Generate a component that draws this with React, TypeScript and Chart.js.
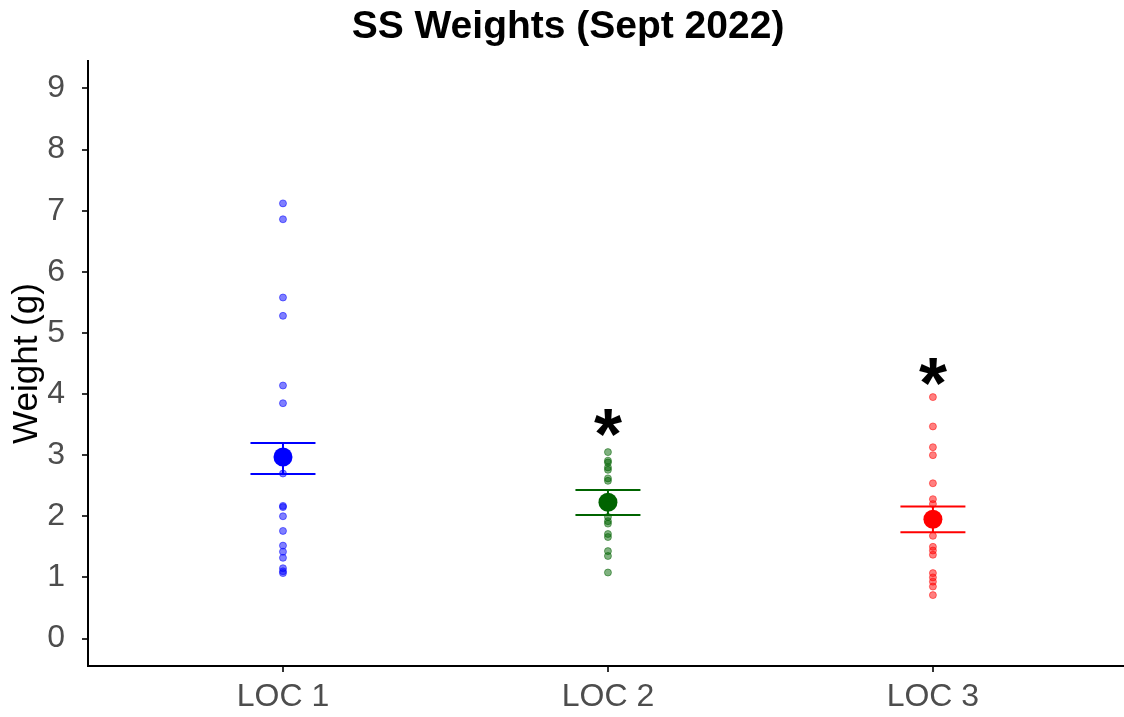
import React, { useEffect, useRef } from "react";
import { Chart, registerables } from "chart.js";

Chart.register(...registerables);

const categories = ["LOC 1", "LOC 2", "LOC 3"];
const loc1Weights = [7.12, 6.86, 5.58, 5.28, 4.14, 3.85, 2.7, 2.17, 2.15, 2.0, 1.76, 1.52, 1.42, 1.32, 1.15, 1.1, 1.07];
const loc2Weights = [3.05, 2.91, 2.88, 2.8, 2.76, 2.62, 2.58, 2.3, 2.18, 1.99, 1.92, 1.88, 1.71, 1.66, 1.43, 1.35, 1.08];
const loc3Weights = [3.95, 3.47, 3.13, 3.0, 2.54, 2.28, 2.2, 1.68, 1.5, 1.44, 1.37, 1.07, 1.0, 0.93, 0.85, 0.71];
const means = [2.97, 2.23, 1.95];
const seLower = [2.69, 2.02, 1.74];
const seUpper = [3.2, 2.43, 2.16];
const sigLabels = ["", "*", "*"];
const sigY = [null, 3.53, 4.37];
const yTicks = [0, 1, 2, 3, 4, 5, 6, 7, 8, 9];
const colors = ["#0000FF", "#006400", "#FF0000"];
const fadedColors = ["rgba(0,0,255,0.5)", "rgba(0,100,0,0.5)", "rgba(255,0,0,0.5)"];
const titleText = "SS Weights (Sept 2022)";
const yTitle = "Weight (g)";

const FONT = '"Liberation Sans", Arial, sans-serif';

export default function App() {
  const ref = useRef<HTMLCanvasElement>(null);

  useEffect(() => {
    if (!ref.current) return;
    const groups = [loc1Weights, loc2Weights, loc3Weights];
    const pointSets = groups.map((arr, gi) => ({
      label: categories[gi],
      data: arr.map((v) => ({ x: gi, y: v })),
      backgroundColor: fadedColors[gi],
      borderColor: fadedColors[gi],
      borderWidth: 1,
      pointRadius: 3.5,
    }));
    const meanSet = {
      label: "mean",
      data: means.map((m, i) => ({ x: i, y: m })),
      backgroundColor: colors,
      borderColor: colors,
      borderWidth: 0,
      pointRadius: 9.5,
    };

    const errPlugin = {
      id: "errbars",
      beforeDatasetsDraw(chart: any) {
        const { ctx, scales } = chart;
        const xs = scales.x, ys = scales.y;
        ctx.save();
        means.forEach((_, i) => {
          const xl = xs.getPixelForValue(i - 0.1);
          const xr = xs.getPixelForValue(i + 0.1);
          const xc = xs.getPixelForValue(i);
          const yl = ys.getPixelForValue(seLower[i]);
          const yh = ys.getPixelForValue(seUpper[i]);
          ctx.strokeStyle = colors[i];
          ctx.lineWidth = 2;
          ctx.beginPath();
          ctx.moveTo(xl, yl); ctx.lineTo(xr, yl);
          ctx.moveTo(xl, yh); ctx.lineTo(xr, yh);
          ctx.moveTo(xc, yl); ctx.lineTo(xc, yh);
          ctx.stroke();
        });
        ctx.restore();
      },
      afterDatasetsDraw(chart: any) {
        const { ctx, scales } = chart;
        ctx.save();
        ctx.fillStyle = "#000";
        ctx.font = `bold 72px ${FONT}`;
        ctx.textAlign = "center";
        ctx.textBaseline = "alphabetic";
        sigLabels.forEach((s, i) => {
          if (!s || sigY[i] == null) return;
          const m = ctx.measureText(s);
          const cx = scales.x.getPixelForValue(i);
          const cy = scales.y.getPixelForValue(sigY[i]);
          ctx.fillText(s, cx, cy + (m.actualBoundingBoxAscent - m.actualBoundingBoxDescent) / 2);
        });
        ctx.restore();
      },
      afterDraw(chart: any) {
        const { ctx } = chart;
        ctx.save();
        ctx.fillStyle = "#000";
        ctx.font = `bold 39px ${FONT}`;
        ctx.textAlign = "center";
        ctx.textBaseline = "alphabetic";
        ctx.fillText(titleText, 568, 38);
        ctx.restore();
      },
    };

    const axisGrid = {
      display: true,
      drawOnChartArea: false,
      drawTicks: true,
      tickLength: 6,
      color: "#333333",
      lineWidth: 2,
    };

    const chart = new Chart(ref.current, {
      type: "scatter",
      data: { datasets: [...pointSets, meanSet] as any },
      plugins: [errPlugin],
      options: {
        responsive: false,
        animation: false,
        layout: { autoPadding: false, padding: { top: 61, left: 0, right: 0, bottom: 0 } },
        plugins: { legend: { display: false }, tooltip: { enabled: false }, title: { display: false } },
        scales: {
          x: {
            type: "linear",
            min: -0.6,
            max: 2.588,
            afterBuildTicks: (s: any) => {
              s.ticks = categories.map((_, i) => ({ value: i }));
            },
            afterFit: (s: any) => {
              s.height = 51;
              s.paddingLeft = 0;
              s.paddingRight = 0;
            },
            ticks: {
              callback: (v: any) => categories[v as number] ?? "",
              font: { size: 32, family: FONT },
              color: "#4D4D4D",
              padding: 6,
              autoSkip: false,
              maxRotation: 0,
            },
            grid: axisGrid,
            border: { display: true, color: "#000", width: 2 },
          },
          y: {
            type: "linear",
            min: -0.45,
            max: 9.45,
            afterBuildTicks: (s: any) => {
              s.ticks = yTicks.map((v) => ({ value: v }));
            },
            afterFit: (s: any) => {
              s.width = 88;
              s.paddingTop = 0;
              s.paddingBottom = 0;
            },
            ticks: {
              font: { size: 32, family: FONT },
              color: "#4D4D4D",
              padding: 17,
            },
            title: {
              display: true,
              text: yTitle,
              font: { size: 35, family: FONT },
              color: "#000",
              padding: { top: 6, bottom: 0 },
            },
            grid: axisGrid,
            border: { display: true, color: "#000", width: 2 },
          },
        },
      } as any,
    });
    return () => chart.destroy();
  }, []);

  return (
    <div style={{ position: "fixed", left: 0, top: 0, width: 1124, height: 717, background: "#fff" }}>
      <canvas ref={ref} width={1124} height={717} style={{ display: "block" }} />
    </div>
  );
}
